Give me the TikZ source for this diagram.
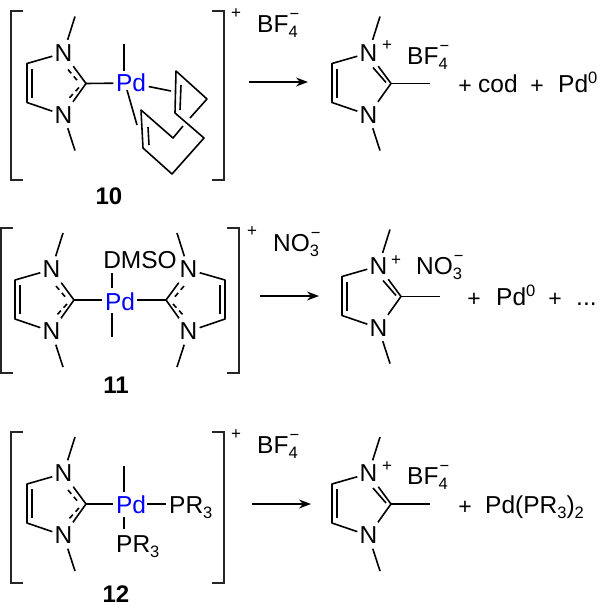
\documentclass[tikz,border=0pt]{standalone}
\usepackage{fontspec}
\setmainfont{Liberation Sans}
\usetikzlibrary{arrows.meta}
\newcommand{\smallsz}{\fontsize{16.5}{16.5}\selectfont}
\newcommand{\ionsb}[2]{\rlap{\raisebox{-5pt}{\smallsz #1}}\raisebox{13pt}{\kern1pt\smallsz #2}}
\newcommand{\sbs}[1]{\raisebox{-4.5pt}{\smallsz #1}}
\newcommand{\sps}[1]{\raisebox{9.5pt}{\smallsz #1}}
\tikzset{
  bond/.style={line width=1.6pt,line join=round},
  dbond/.style={line width=1.6pt,dash pattern=on 5pt off 4pt},
  brk/.style={line width=1.5pt,draw=black!85},
  atom/.style={inner sep=0pt,minimum width=22pt,minimum height=26pt,font=\fontsize{24.5}{26}\selectfont},
  pd/.style={inner sep=0pt,minimum width=35pt,minimum height=25pt,text=blue,font=\fontsize{24.5}{26}\selectfont},
  txt/.style={inner sep=0pt,anchor=base west,font=\fontsize{24.5}{26}\selectfont},
  pls/.style={inner sep=0pt,anchor=base,font=\fontsize{23}{26}\selectfont},
  chg/.style={inner sep=0pt,font=\fontsize{17}{17}\selectfont},
  lbl/.style={inner sep=0pt,font=\fontsize{24}{26}\selectfont\bfseries},
  arr/.style={line width=1.5pt,-{Stealth[length=12pt,width=9pt]}}
}
% #1 prefix, #2 position of C2, #3 x direction
\newcommand{\ringbase}[3]{%
  \begin{scope}[shift={(#2)},xscale=#3]
    \node[atom] (#1Na) at (-22.5,-30.5) {N};
    \node[atom] (#1Nb) at (-22.5,31.5) {N};
    \coordinate (#1C) at (0,0);
    \coordinate (#1Ca) at (-59,-20);
    \coordinate (#1Cb) at (-59,19);
    \coordinate (#1Ma) at (-11,-67);
    \coordinate (#1Mb) at (-11,67);
    \draw[bond] (#1Na) -- (#1Ca) -- (#1Cb) -- (#1Nb);
    \draw[bond] (-54,-15) -- (-54,14);
    \draw[bond] (#1Na) -- (#1C) -- (#1Nb);
    \draw[bond] (#1Na) -- (#1Ma);
    \draw[bond] (#1Nb) -- (#1Mb);
  \end{scope}}
\newcommand{\carbene}[3]{%
  \ringbase{#1}{#2}{#3}
  \begin{scope}[shift={(#2)},xscale=#3]
    \draw[dbond] (-18,-14) -- (-7,-1);
    \draw[dbond] (-7,4) -- (-19,17);
  \end{scope}}
\newcommand{\cation}[2]{%
  \ringbase{#1}{#2}{1}
  \begin{scope}[shift={(#2)}]
    \coordinate (#1Mc) at (39,0);
    \draw[bond] (#1C) -- (#1Mc);
    \draw[bond] (-18,-16) -- (-5,-1);
  \end{scope}}
\newcommand{\brackets}[4]{% x left, x right, top, bottom
  \draw[brk] (#1+12,#3) -- (#1,#3) -- (#1,#4) -- (#1+12,#4);
  \draw[brk] (#2-12,#3) -- (#2,#3) -- (#2,#4) -- (#2-12,#4);}
\begin{document}
\begin{tikzpicture}[x=1pt,y=-1pt]
\useasboundingbox (0,0) rectangle (604,606);
% ---------- row 1
\brackets{11}{224}{11}{180}
\node[chg] (p1) at (236,14) {+};
\node[txt] (an1) at (257,32) {BF\ionsb{4}{−}};
\carbene{a}{86,83.5}{1}
\node[pd] (pda) at (131,83) {Pd};
\draw[bond] (aC) -- (pda);
\coordinate (pdaM) at (124,44);
\coordinate (pdaT) at (124,71);
\draw[bond] (pdaM) -- (pdaT);
\coordinate (ca) at (176,71);
\coordinate (cb) at (207,99);
\coordinate (cc) at (173,138);
\coordinate (cd) at (175,113);
\coordinate (ce) at (204,138);
\coordinate (cf) at (141,110);
\coordinate (cg) at (143,148);
\coordinate (ch) at (172,174);
\coordinate (g1) at (190,118);
\coordinate (g2) at (183,126);
\coordinate (pdaL) at (127,90);
\coordinate (pdaE) at (137,125);
\coordinate (pdaR) at (171,91);
\draw[bond] (pda) -- (pdaR);
\draw[bond] (pdaL) -- (pdaE);
\draw[bond] (g1) -- (cb) -- (ca) -- (cd) -- (ce) -- (ch) -- (cg) -- (cf) -- (cc) -- (g2);
\draw[bond] (181,85) -- (180,110);
\draw[bond] (148,127) -- (149,145);
\node[lbl] (l10) at (109,196) {10};
\coordinate (ar1s) at (249,82);
\coordinate (ar1e) at (308,82);
\draw[arr] (ar1s) -- (ar1e);
\cation{d}{391,83.5}
\node[chg] (p1b) at (387,46) {+};
\node[txt] (an1b) at (407,64) {BF\ionsb{4}{−}};
\node[pls] (q1) at (465,93) {+};
\node[txt] (cod) at (478,92.5) {cod};
\node[pls] (q2) at (537,93) {+};
\node[txt] (pd0a) at (558,92.5) {Pd\sps{0}};
% ---------- row 2
\brackets{1}{239}{228}{373}
\node[chg] (p2) at (252,232) {+};
\node[txt] (an2) at (273,251) {NO\ionsb{3}{−}};
\carbene{b}{74,300}{1}
\carbene{c}{166,300}{-1}
\node[pd] (pdb) at (120,302) {Pd};
\draw[bond] (bC) -- (102,300);
\draw[bond] (137,300) -- (cC);
\node[txt,anchor=base] (dmso) at (140,268.5) {DMSO};
\coordinate (pdbT) at (112,288);
\coordinate (dmsoB) at (112,273);
\draw[bond] (dmsoB) -- (pdbT);
\coordinate (pdbB) at (112,313);
\coordinate (pdbM) at (112,337);
\draw[bond] (pdbB) -- (pdbM);
\node[lbl] (l11) at (116,385) {11};
\coordinate (ar2s) at (260,296);
\coordinate (ar2e) at (319,296);
\draw[arr] (ar2s) -- (ar2e);
\cation{e}{401,296.5}
\node[chg] (p2b) at (396,261) {+};
\node[txt] (an2b) at (416,274.5) {NO\ionsb{3}{−}};
\node[pls] (q3) at (474,306) {+};
\node[txt] (pd0b) at (496,305.5) {Pd\sps{0}};
\node[pls] (q4) at (555,306) {+};
\node[txt] (dots) at (576,305) {...};
% ---------- row 3
\brackets{11}{224}{432}{583}
\node[chg] (p3) at (236,435) {+};
\node[txt] (an3) at (257,453) {BF\ionsb{4}{−}};
\carbene{f}{86,504}{1}
\node[pd] (pdc) at (131,505) {Pd};
\draw[bond] (fC) -- (113,504);
\coordinate (pdcM) at (124,466);
\coordinate (pdcT) at (124,492);
\draw[bond] (pdcM) -- (pdcT);
\coordinate (pdcB) at (124,517);
\coordinate (prT) at (124,529);
\draw[bond] (pdcB) -- (prT);
\coordinate (pdcR) at (147,504);
\coordinate (prL) at (166,504);
\draw[bond] (pdcR) -- (prL);
\node[txt] (pr1) at (169,513.5) {PR\sbs{3}};
\node[txt] (pr2) at (116,552.5) {PR\sbs{3}};
\node[lbl] (l12) at (116,594) {12};
\coordinate (ar3s) at (252,504);
\coordinate (ar3e) at (311,504);
\draw[arr] (ar3s) -- (ar3e);
\cation{g}{391,504}
\node[chg] (p3b) at (387,467) {+};
\node[txt] (an3b) at (407,484.5) {BF\ionsb{4}{−}};
\node[pls] (q5) at (465,514) {+};
\node[txt] (prod) at (485,513.5) {Pd(PR\sbs{3})\sbs{2}};
\end{tikzpicture}
\end{document}
